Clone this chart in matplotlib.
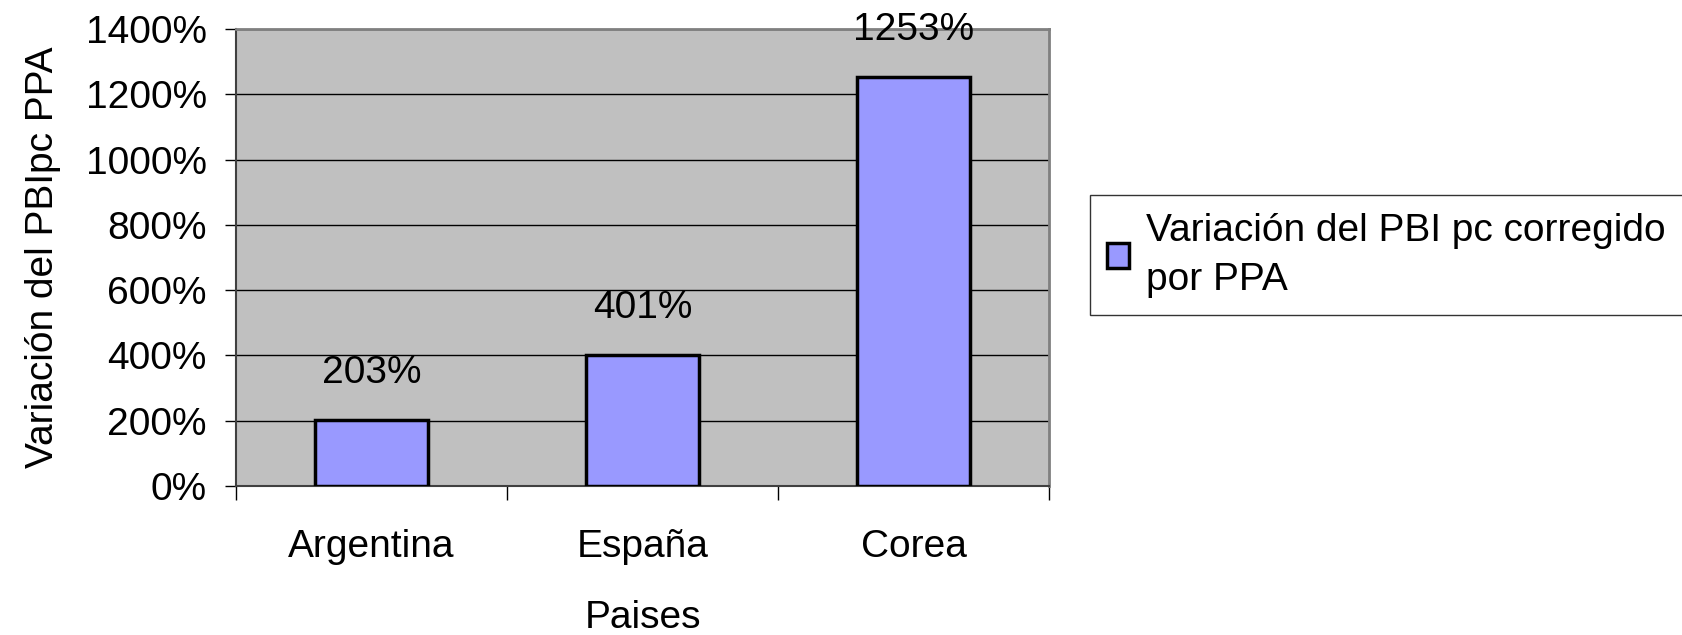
import matplotlib.pyplot as plt
from matplotlib.ticker import FuncFormatter

paises = ['Argentina', 'España', 'Corea']
variacion = [203, 401, 1253]
y_ticks = [0, 200, 400, 600, 800, 1000, 1200, 1400]
serie = 'Variación del PBI pc corregido\npor PPA'

plt.rcParams['font.family'] = ['Liberation Sans', 'DejaVu Sans']
plt.rcParams['font.size'] = 28

fig = plt.figure(figsize=(16.82, 6.35), dpi=100)
ax = fig.add_axes([0.1403, 0.2346, 0.4834, 0.7197])
ax.set_facecolor('#C0C0C0')

x = range(len(paises))
ax.bar(x, variacion, width=0.42, color='#9999FF', edgecolor='black', linewidth=2.5,
       label=serie, zorder=3)

for i, v in enumerate(variacion):
    ax.annotate(f'{v}%', xy=(i, v), xytext=(0, 34), textcoords='offset points',
                ha='center', va='center', fontsize=28, zorder=4)

ax.set_ylim(0, 1400)
ax.set_yticks(y_ticks)
ax.yaxis.set_major_formatter(FuncFormatter(lambda v, p: f'{v:.0f}%'))
ax.grid(axis='y', color='black', linewidth=1, zorder=1)
ax.set_axisbelow(True)

ax.set_xlim(-0.5, len(paises) - 0.5)
ax.set_xticks([i - 0.5 for i in range(len(paises) + 1)])
ax.set_xticklabels([])
ax.set_xticks(list(x), minor=True)
ax.set_xticklabels(paises, minor=True)
ax.tick_params(axis='x', which='major', length=10, color='black', width=1)
ax.tick_params(axis='x', which='minor', length=0, pad=31)
ax.tick_params(axis='y', length=8, width=1, pad=13)

for side in ['top', 'right']:
    ax.spines[side].set_color('#808080')
    ax.spines[side].set_linewidth(2)
for side in ['left', 'bottom']:
    ax.spines[side].set_color('#404040')
    ax.spines[side].set_linewidth(1.5)

ax.set_xlabel('Paises', labelpad=25)
ax.set_ylabel('Variación del PBIpc PPA', labelpad=18)

leg = fig.legend(loc='center left', bbox_to_anchor=(0.648, 0.598), frameon=True,
                 fancybox=False, edgecolor='black', handlelength=0.55, handleheight=0.6,
                 handletextpad=0.45, borderpad=0.45, borderaxespad=0, fontsize=28)
leg.get_frame().set_linewidth(1)
for t in leg.get_texts():
    t.set_linespacing(1.45)

fig.savefig('out.png', dpi=100)
